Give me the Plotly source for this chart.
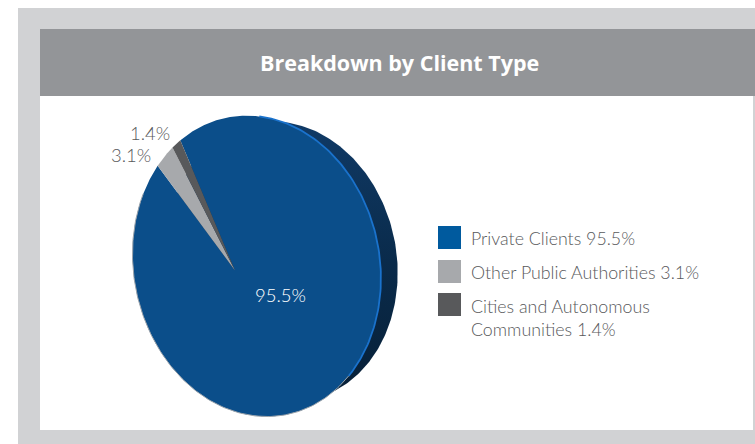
import numpy as np
import plotly.graph_objects as go

title = "Breakdown by Client Type"
categories = ["Private Clients", "Other Public Authorities", "Cities and Autonomous<br>Communities"]
values = [95.5, 3.1, 1.4]
slice_colors = ["#0b4e8a", "#a7a9ac", "#58595b"]
swatch_colors = ["#005a9e", "#a7a9ac", "#58595b"]

# Perspective view of the pie disc (the original is a tilted 3D pie)
APEX = (235.0, 270.5)
A, B, K, TILT = 119.0, 149.0, 0.18, 0.2
START_DEG = -14.1
TEXT_FONT = "Lato Light, Lato"
TEXT_COLOR = "#58595b"


def project(theta_deg, r=1.0, dx=0.0, dy=0.0):
    """Clockwise degrees from 12 o'clock -> plot coordinates of the tilted disc."""
    t = np.radians(theta_deg)
    ux, uy = np.sin(t), -np.cos(t)
    d = 1 - K * ux
    xp, yp = r * A * ux / d, r * B * uy / d
    c, s = np.cos(TILT), np.sin(TILT)
    return APEX[0] + xp * c + yp * s + dx, APEX[1] - xp * s + yp * c + dy


def wedge(a0, a1):
    th = np.linspace(a0, a1, max(3, int(abs(a1 - a0) * 2)))
    x, y = project(th)
    return np.r_[APEX[0], x, APEX[0]], np.r_[APEX[1], y, APEX[1]]


fig = go.Figure()

# Thickness of the disc
bx, by = project(np.linspace(0, 360, 361), r=0.93, dx=27, dy=-5)
fig.add_trace(go.Scatter(
    x=bx, y=by, mode="lines", line=dict(width=0), fill="toself",
    fillgradient=dict(type="vertical", colorscale=[[0, "#071f36"], [0.5, "#0a2b4b"], [1, "#103a66"]]),
    hoverinfo="skip", showlegend=False))

# Slices, clockwise from the start angle
edges = START_DEG + np.r_[0, np.cumsum(values)] / sum(values) * 360
for i, (cat, val, col) in enumerate(zip(categories, values, slice_colors)):
    x, y = wedge(edges[i], edges[i + 1])
    fig.add_trace(go.Scatter(
        x=x, y=y, mode="lines", line=dict(width=0), fill="toself", fillcolor=col,
        name=cat, hoverinfo="name", showlegend=False))

# Bright rim on the right edge and soft edge on the left
rx, ry = project(np.linspace(25, 138, 110))
fig.add_trace(go.Scatter(x=rx, y=ry, mode="lines", line=dict(color="#1a72cc", width=1.8),
                         hoverinfo="skip", showlegend=False))
lx, ly = project(np.linspace(138, 315, 160))
fig.add_trace(go.Scatter(x=lx, y=ly, mode="lines", line=dict(color="#9aa2aa", width=1),
                         hoverinfo="skip", showlegend=False))

shapes = [
    dict(type="rect", x0=18, x1=755, y0=8, y1=444, fillcolor="#d1d2d4", line_width=0, layer="below"),
    dict(type="rect", x0=40, x1=753, y0=96, y1=430, fillcolor="#ffffff", line_width=0, layer="below"),
    dict(type="rect", x0=40, x1=755, y0=29, y1=96, fillcolor="#939598", line_width=0, layer="below"),
]
swatch_y = [226, 260, 293]
label_y = [238, 272, 317]
annotations = [dict(x=399, y=62, text=f"<b>{title}</b>", showarrow=False, xanchor="center", yanchor="middle",
                    font=dict(family="Open Sans", size=21.5, color="#ffffff"))]
for sy, ly_, cat, val, col in zip(swatch_y, label_y, categories, values, swatch_colors):
    shapes.append(dict(type="rect", x0=438, x1=461, y0=sy, y1=sy + 23, fillcolor=col, line_width=0))
    annotations.append(dict(x=469, y=ly_, text=f"{cat} {val}%", showarrow=False, xanchor="left", yanchor="middle",
                            align="left", font=dict(family=TEXT_FONT, size=17.8, color=TEXT_COLOR)))

for x_, y_, val, colr in [(150, 133, values[2], TEXT_COLOR), (131, 155, values[1], TEXT_COLOR),
                          (280, 295, values[0], "#ffffff")]:
    annotations.append(dict(x=x_, y=y_, text=f"{val}%", showarrow=False, xanchor="center", yanchor="middle",
                            font=dict(family=TEXT_FONT, size=18.5, color=colr)))

fig.update_layout(
    width=755, height=444, margin=dict(l=0, r=0, t=0, b=0),
    paper_bgcolor="#ffffff", plot_bgcolor="rgba(0,0,0,0)",
    xaxis=dict(range=[0, 755], visible=False, fixedrange=True),
    yaxis=dict(range=[444, 0], visible=False, fixedrange=True),
    shapes=shapes, annotations=annotations, showlegend=False,
)
fig.write_html("out.html", post_script="document.body.style.margin='0';", config={"displayModeBar": False})
